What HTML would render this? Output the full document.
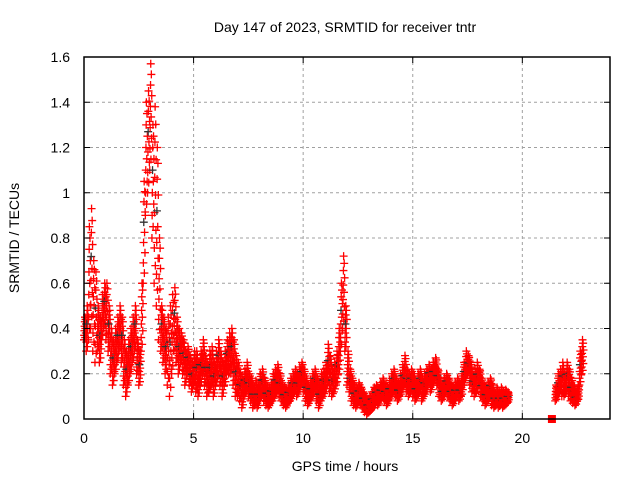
<!DOCTYPE html>
<html><head><meta charset="utf-8"><style>
body{margin:0;background:#fff}
svg{display:block;font-family:"Liberation Sans",sans-serif}
</style></head><body>
<svg id="c" width="640" height="480">
<text x="345" y="32" text-anchor="middle" font-size="14">Day 147 of 2023, SRMTID for receiver tntr</text>
<text x="345" y="471" text-anchor="middle" font-size="14">GPS time / hours</text>
<text transform="translate(19,238) rotate(-90)" text-anchor="middle" font-size="14">SRMTID / TECUs</text>
<g id="grid"></g><g id="marks"></g><g id="axes"></g>
</svg>
<script>
const xTicks=[0,5,10,15,20];
const yTicks=[0,0.2,0.4,0.6,0.8,1,1.2,1.4,1.6];
const yTickLabels=["0","0.2","0.4","0.6","0.8","1","1.2","1.4","1.6"];
const seg1Start=0.0;
const seg1Lo=[.35,.3,.35,.4,.3,.25,.3,.25,.35,.4,.35,.3,.2,.15,.2,.25,.3,.25,.15,.1,.15,.2,.25,.3,.2,.15,.3,.6,.9,1.0,1.1,.8,.6,.5,.35,.3,.25,.2,.15,.1,.2,.3,.25,.2,.25,.2,.15,.2,.15,.12,.15,.12,.1,.15,.2,.15,.1,.12,.15,.1,.15,.18,.15,.1,.15,.2,.2,.2,.15,.1,.1,.08,.05,.1,.12,.1,.08,.05,.06,.05,.08,.1,.08,.06,.05,.07,.08,.1,.12,.1,.08,.06,.05,.07,.08,.1,.12,.1,.12,.15,.12,.08,.06,.08,.1,.12,.08,.05,.08,.1,.12,.15,.12,.1,.12,.15,.2,.3,.4,.3,.15,.12,.08,.06,.05,.07,.06,.05,.03,.02,.03,.04,.05,.07,.06,.08,.1,.08,.06,.08,.1,.12,.1,.08,.1,.12,.15,.12,.1,.12,.1,.08,.1,.12,.08,.1,.12,.15,.12,.15,.18,.15,.1,.08,.1,.12,.1,.08,.06,.08,.1,.08,.1,.15,.18,.2,.15,.12,.1,.12,.15,.1,.08,.06,.08,.1,.06,.05,.06,.05,.06,.05,.06,.07];
const seg1Hi=[.45,.5,.85,.93,.7,.65,.5,.45,.55,.6,.6,.5,.4,.35,.4,.45,.5,.45,.35,.3,.35,.4,.45,.5,.35,.3,.6,1.05,1.4,1.45,1.57,1.3,1.38,1.2,.8,.5,.45,.4,.45,.5,.55,.58,.45,.4,.38,.35,.3,.32,.28,.25,.3,.3,.25,.3,.35,.28,.25,.3,.32,.25,.3,.35,.3,.25,.3,.35,.38,.4,.35,.28,.25,.2,.18,.22,.25,.2,.18,.15,.17,.15,.2,.22,.18,.15,.14,.16,.2,.22,.24,.2,.16,.14,.13,.15,.18,.2,.22,.2,.23,.25,.22,.18,.15,.17,.2,.22,.18,.15,.2,.22,.25,.33,.28,.22,.25,.3,.4,.6,.72,.5,.3,.22,.18,.15,.14,.16,.14,.12,.1,.09,.1,.12,.14,.15,.13,.16,.18,.15,.14,.17,.2,.22,.18,.16,.2,.24,.28,.22,.2,.22,.2,.17,.2,.22,.18,.2,.22,.24,.22,.25,.27,.22,.18,.15,.18,.2,.18,.15,.14,.16,.18,.16,.2,.25,.3,.28,.25,.2,.22,.25,.22,.18,.15,.14,.16,.18,.15,.12,.14,.12,.14,.12,.13,.12];
const seg2Start=21.5;
const seg2Lo=[.08,.1,.12,.1,.1,.12,.1,.08,.07,.06,.08,.15,.2];
const seg2Hi=[.15,.2,.22,.25,.2,.25,.22,.18,.15,.12,.15,.3,.35];
const squareT=[21.35];const squareV=[0];
const X0=84,X1=610,Y0=419,Y1=57,XMAX=24,YMAX=1.6;
const xs=t=>X0+(X1-X0)*t/XMAX, ys=v=>Y0-(Y0-Y1)*v/YMAX;
const NS="http://www.w3.org/2000/svg";
function mk(tag,attrs,parent){const e=document.createElementNS(NS,tag);for(const k in attrs)e.setAttribute(k,attrs[k]);parent.appendChild(e);return e;}
const grid=document.getElementById('grid'),marks=document.getElementById('marks'),axes=document.getElementById('axes');
xTicks.forEach((t,i)=>{const x=xs(t);
 if(t>0){const g=mk('line',{x1:x,x2:x,y1:Y0,y2:Y1,stroke:'#a0a0a0','stroke-dasharray':'3,3'},grid);
 
 }
 const tk=mk('path',{d:`M${x} ${Y0}v-6M${x} ${Y1}v6`,stroke:'#000'},axes);
 
 
 const l=mk('text',{x:x,y:Y0+24,'text-anchor':'middle','font-size':14},axes);l.textContent=t;
 
 });
yTicks.forEach((v,i)=>{const y=ys(v);
 if(v>0&&v<YMAX){const g=mk('line',{x1:X0,x2:X1,y1:y,y2:y,stroke:'#a0a0a0','stroke-dasharray':'3,3'},grid);
 
 }
 const tk=mk('path',{d:`M${X0} ${y}h6M${X1} ${y}h-6`,stroke:'#000'},axes);
 
 
 const l=mk('text',{x:70,y:y+5,'text-anchor':'end','font-size':14},axes);l.textContent=yTickLabels[i];
 
 });
const box=mk('rect',{x:X0,y:Y1,width:X1-X0,height:Y0-Y1,fill:'none',stroke:'#000','stroke-width':1.5},axes);


function plus(t,v,col){const x=xs(t),y=ys(v);
 const p=mk('path',{d:`M${x-4} ${y}h8M${x} ${y-4}v8`,stroke:col,'stroke-width':1.3},marks);
 
 }
const fr=[0,0.2,0.4,0.6,0.8,1,0.1,0.5,0.9,0.3,0.7];
function seg(start,lo,hi){lo.forEach((v,i)=>{const h=hi[i];
 fr.forEach((f,k)=>{const t=start+i*0.1+k*0.1/fr.length;
  plus(t,v+(h-v)*f,(k===3&&i%2)?'#333':'red');});});}
seg(seg1Start,seg1Lo,seg1Hi);seg(seg2Start,seg2Lo,seg2Hi);
squareT.forEach((t,i)=>{const s=mk('rect',{x:xs(t)-4,y:ys(squareV[i])-4,width:8,height:8,fill:'red'},marks);
 
 });
</script>
</body></html>
